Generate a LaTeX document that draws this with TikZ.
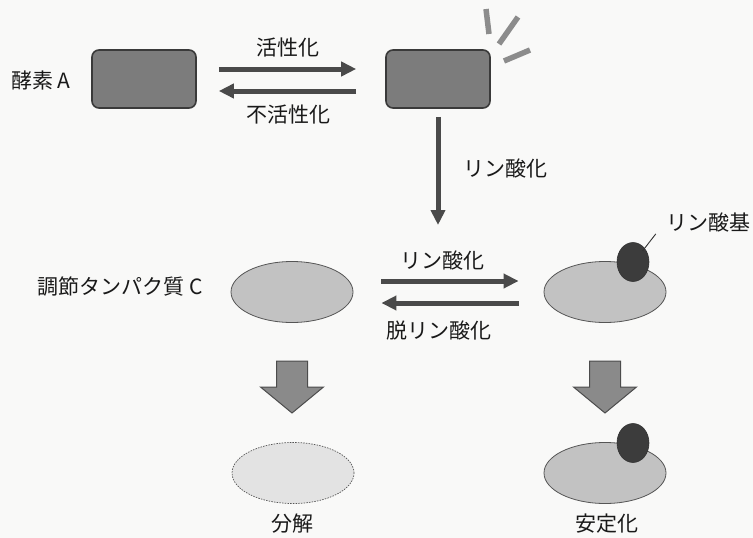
\documentclass[tikz,border=0pt]{standalone}
\usepackage{fontspec}
\setmainfont{Noto Sans CJK JP}
\usetikzlibrary{arrows.meta,shapes.geometric,calc}
\definecolor{enzfill}{HTML}{7C7C7C}
\definecolor{enzline}{HTML}{3A3A3A}
\definecolor{protfill}{HTML}{C2C2C2}
\definecolor{protline}{HTML}{555555}
\definecolor{phosfill}{HTML}{3C3C3C}
\definecolor{arrowcol}{HTML}{4A4A4A}
\definecolor{raycol}{HTML}{8C8C8C}
\definecolor{blkfill}{HTML}{8A8A8A}
\definecolor{deadfill}{HTML}{E3E3E3}
\definecolor{bgcol}{HTML}{F9F9F8}
\begin{document}
\begin{tikzpicture}[x=1pt,y=-1pt,
  lbl/.style={font=\fontsize{21}{24}\selectfont, text=black!90, inner sep=0pt},
  enz/.style={draw=enzline, fill=enzfill, rounded corners=7pt, minimum width=104pt, minimum height=58pt, line width=1.6pt},
  prot/.style={ellipse, draw=protline, fill=protfill, minimum width=122pt, minimum height=61pt, line width=0.8pt, inner sep=0pt},
  deadprot/.style={ellipse, draw=protline, fill=deadfill, minimum width=122pt, minimum height=61pt, line width=0.7pt, dash pattern=on 1.5pt off 1.2pt, inner sep=0pt},
  phos/.style={ellipse, draw=black!80, fill=phosfill, minimum width=32pt, minimum height=39pt, inner sep=0pt, line width=0.6pt},
  bar/.style={draw=arrowcol, line width=5pt, -{Triangle[width=14pt,length=15pt]}},
  ray/.style={draw=raycol, line width=5.5pt},
  blk/.style={draw=black!70, fill=blkfill, line width=1pt, line join=miter},
  tick/.style={draw=black!80, line width=0.9pt}
]
\fill[bgcol] (0,0) rectangle (753,538);
\useasboundingbox (0,0) rectangle (753,538);

% enzyme A
\node[lbl] (la) at (41,80) {酵素 A};
\node[enz] (ea) at (144,79) {};
\node[enz] (eb) at (438,79) {};
\draw[bar] ([xshift=22pt,yshift=10pt]ea.east) -- ([xshift=-29pt,yshift=10pt]eb.west);
\draw[bar] ([xshift=-29pt,yshift=-12pt]eb.west) -- ([xshift=22pt,yshift=-12pt]ea.east);
\node[lbl] (t1) at (288,48) {活性化};
\node[lbl] (t2) at (288,115) {不活性化};
% rays
\draw[ray] (486,9) -- (489,34);
\draw[ray] (518,17) -- (499,44);
\draw[ray] (504,61) -- (530,50);

% protein C
\node[lbl] (lc) at (120,287) {調節タンパク質 C};
\node[prot] (c1) at (292,292) {};
\node[prot] (c2) at (605,292) {};
\node[phos] (p2) at (633,262) {};
\coordinate (vt) at (438,225);
\draw[bar] ([yshift=-8pt]eb.south) -- (vt);
\node[lbl] (t3) at (505,168) {リン酸化};

\draw[bar] ([xshift=28pt,yshift=11pt]c1.east) -- ([xshift=-25pt,yshift=11pt]c2.west);
\draw[bar] ([xshift=-25pt,yshift=-11pt]c2.west) -- ([xshift=28pt,yshift=-11pt]c1.east);
\node[lbl] (t4) at (442,260) {リン酸化};
\node[lbl] (t5) at (439,330) {脱リン酸化};

\node[lbl] (t6) at (708,222) {リン酸基};
\draw[tick] ([xshift=-2pt,yshift=-3pt]p2.north east) -- ([xshift=-10pt,yshift=-2pt]t6.south west);

% block arrows
\coordinate (ba1) at (292,361);
\coordinate (ba2) at (605,361);
\draw[blk] (ba1) ++(-15.5,0) -- ++(31,0) -- ++(0,26) -- ++(16,0) -- ++(-31.5,26) -- ++(-31.5,-26) -- ++(16,0) -- cycle;
\draw[blk] (ba2) ++(-15.5,0) -- ++(31,0) -- ++(0,26) -- ++(16,0) -- ++(-31.5,26) -- ++(-31.5,-26) -- ++(16,0) -- cycle;

\node[deadprot] (d1) at (293,473) {};
\node[prot] (c3) at (605,473) {};
\node[phos] (p3) at (633,443) {};
\node[lbl] (t7) at (292,524) {分解};
\node[lbl] (t8) at (607,524) {安定化};
\end{tikzpicture}
\end{document}
